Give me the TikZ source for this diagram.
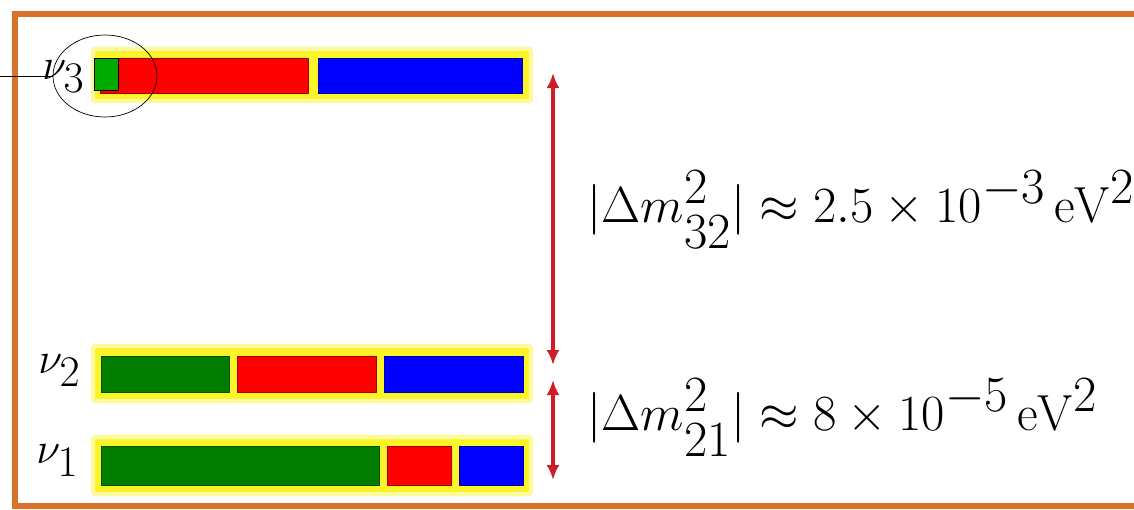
\documentclass[tikz,border=0pt]{standalone}
\usepackage{amsmath,amssymb}
\usepackage{graphicx}
\usepackage{xcolor}
\usetikzlibrary{arrows.meta,shapes.geometric}

\definecolor{frameorange}{RGB}{214,114,42}
\definecolor{glowyellow}{RGB}{250,244,40}
\definecolor{nugreen}{RGB}{0,125,0}
\definecolor{ringgreen}{RGB}{0,170,0}
\definecolor{splitred}{RGB}{205,30,40}

\newcommand{\gaptext}[1]{\scalebox{1.16}{$#1$}}

\begin{document}
\begin{tikzpicture}[
  glow/.style={fill=glowyellow, draw=glowyellow!45, line width=2.5pt, rounded corners=1pt, minimum width=8.76cm, inner sep=0pt},
  bar/.style={fill=#1, draw=#1!65!black, line width=0.5pt, inner sep=0pt},
  nulabel/.style={inner sep=0pt, font=\fontsize{38}{44}\selectfont},
  gaplabel/.style={anchor=west, inner sep=0pt, font=\fontsize{38}{44}\selectfont},
  split/.style={{Latex[length=0.3cm,width=0.26cm]}-{Latex[length=0.3cm,width=0.26cm]}, splitred, line width=2pt}
]
\useasboundingbox (0,0) rectangle (22.68,-10.18);

% frame
\draw[frameorange, line width=3.4pt] (0.30,-0.28) rectangle (23.2,-10.12);

% nu_3
\node[glow, minimum height=1.04cm] (glow3) at (6.24,-1.50) {};
\node[bar=red, minimum width=4.16cm, minimum height=0.70cm] (r3) at (4.08,-1.51) {};
\node[bar=blue, minimum width=4.08cm, minimum height=0.70cm] (b3) at (8.40,-1.51) {};
\node[fill=ringgreen, draw=black, line width=0.5pt, inner sep=0pt, minimum width=0.48cm, minimum height=0.64cm] (g3) at (2.12,-1.48) {};

% nu_2
\node[glow, minimum height=1.10cm] (glow2) at (6.24,-7.47) {};
\node[bar=nugreen, minimum width=2.56cm, minimum height=0.72cm] (g2) at (3.30,-7.48) {};
\node[bar=red, minimum width=2.78cm, minimum height=0.72cm] (r2) at (6.13,-7.48) {};
\node[bar=blue, minimum width=2.78cm, minimum height=0.72cm] (b2) at (9.07,-7.48) {};

% nu_1
\node[glow, minimum height=1.14cm] (glow1) at (6.24,-9.31) {};
\node[bar=nugreen, minimum width=5.56cm, minimum height=0.78cm] (g1) at (4.80,-9.31) {};
\node[bar=red, minimum width=1.28cm, minimum height=0.78cm] (r1) at (8.38,-9.31) {};
\node[bar=blue, minimum width=1.28cm, minimum height=0.78cm] (b1) at (9.82,-9.31) {};

% labels
\node[nulabel] (nu3) at (1.27,-1.54) {$\nu_3$};
\node[nulabel] (nu2) at (1.19,-7.42) {$\nu_2$};
\node[nulabel] (nu1) at (1.15,-9.22) {$\nu_1$};

% ring round nu_3
\node[ellipse, draw, thin, minimum width=2.08cm, minimum height=1.64cm] (nu3ring) at (2.10,-1.52) {};
\coordinate (ringlead) at (0,-1.52);
\draw[thin] (ringlead) -- (nu3ring.west);

% mass splittings
\coordinate (top32) at (11.06,-1.46);
\coordinate (bot32) at (11.06,-7.30);
\coordinate (top21) at (11.06,-7.60);
\coordinate (bot21) at (11.06,-9.60);
\draw[split] (top32) -- (bot32);
\draw[split] (top21) -- (bot21);

\node[gaplabel] (dm32) at (11.74,-4.20) {\gaptext{|\Delta m^2_{32}|\approx 2.5\times10^{-3}\,\mathrm{eV}^2}};
\node[gaplabel] (dm21) at (11.74,-8.36) {\gaptext{|\Delta m^2_{21}|\approx 8\times10^{-5}\,\mathrm{eV}^2}};

\end{tikzpicture}
\end{document}
